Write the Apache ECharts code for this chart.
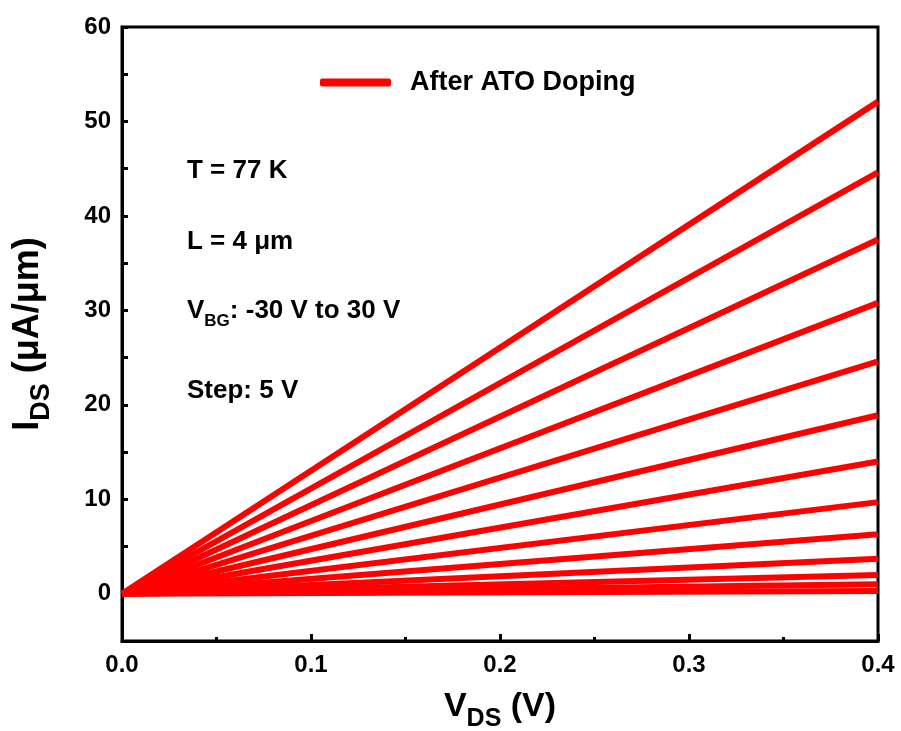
<!DOCTYPE html>
<html>
<head>
<meta charset="utf-8">
<script src="https://cdn.jsdelivr.net/npm/echarts@6/dist/echarts.min.js"></script>
<style>html,body{margin:0;padding:0;background:#fff;overflow:hidden;}#c{width:901px;height:731px;}</style>
</head>
<body>
<div id="c"></div>
<script>
// V_DS sweep endpoints (V)
var vds = [0, 0.4];
// I_DS at V_DS = 0.4 V for each back-gate voltage (µA/µm), V_BG = 30 V down to -30 V
var vbg = [30, 25, 20, 15, 10, 5, 0, -5, -10, -15, -20, -25, -30];
var idsEnd = [52.1, 44.6, 37.5, 30.8, 24.6, 18.9, 14.0, 9.7, 6.3, 3.7, 2.0, 1.0, 0.3];
var xTicks = ['0.0', '0.1', '0.2', '0.3', '0.4'];
var yTicks = [0, 10, 20, 30, 40, 50, 60];
var legendName = 'After ATO Doping';

var FONT = 'Arial, "Liberation Sans", Helvetica, sans-serif';

var series = vbg.map(function (v, i) {
  return {
    name: legendName,
    type: 'line',
    data: [[vds[0], 0], [vds[1], idsEnd[i]]],
    showSymbol: false,
    symbol: 'none',
    lineStyle: { color: '#ff0000', width: 6, cap: 'butt' },
    itemStyle: { color: '#ff0000' },
    z: 2
  };
});

var chart = echarts.init(document.getElementById('c'), null, { renderer: 'canvas', width: 901, height: 731 });
chart.setOption({
  animation: false,
  backgroundColor: '#fff',
  textStyle: { fontFamily: FONT },
  grid: { left: 122, top: 27, width: 756, height: 614, show: true, borderColor: '#000', borderWidth: 3, containLabel: false, outerBoundsMode: 'none' },
  legend: {
    data: [legendName],
    left: 315,
    top: 64,
    itemWidth: 71,
    itemHeight: 8,
    icon: 'roundRect',
    textStyle: { fontSize: 27, fontWeight: 'bold', color: '#000', fontFamily: FONT, padding: [0, 0, 0, 14] }
  },
  xAxis: {
    type: 'value',
    min: 0, max: 0.4, interval: 0.1,
    axisLine: { show: true, onZero: false, lineStyle: { color: '#000', width: 3 } },
    axisTick: { show: true, inside: true, length: 7, lineStyle: { color: '#000', width: 3 } },
    minorTick: { show: true, splitNumber: 2, length: 4, lineStyle: { color: '#000', width: 3 } },
    splitLine: { show: false },
    axisLabel: {
      margin: 12, fontSize: 24, fontWeight: 'bold', color: '#000', fontFamily: FONT,
      formatter: function (v) { var i = Math.round(v * 10); return xTicks[i] !== undefined ? xTicks[i] : ''; }
    },
    name: '{m|V}{s|DS}{m| (V)}',
    nameLocation: 'middle',
    nameGap: 43,
    nameTextStyle: {
      rich: {
        m: { fontSize: 34, fontWeight: 'bold', color: '#000', fontFamily: FONT, verticalAlign: 'bottom', lineHeight: 40 },
        s: { fontSize: 25, fontWeight: 'bold', color: '#000', fontFamily: FONT, verticalAlign: 'bottom', lineHeight: 30, padding: [0, 0, -8, 0] }
      }
    }
  },
  yAxis: {
    type: 'value',
    min: -5, max: 60, interval: 5,
    axisLine: { show: true, onZero: false, lineStyle: { color: '#000', width: 3 } },
    axisTick: { show: true, inside: true, length: 6, lineStyle: { color: '#000', width: 3 } },
    splitLine: { show: false },
    axisLabel: {
      margin: 11, fontSize: 24, fontWeight: 'bold', color: '#000', fontFamily: FONT,
      formatter: function (v) { return yTicks.indexOf(v) >= 0 ? String(v) : ''; }
    },
    name: '{m|I}{s|DS}{m| (μA/μm)}',
    nameLocation: 'middle',
    nameGap: 76,
    nameTextStyle: {
      rich: {
        m: { fontSize: 36, fontWeight: 'bold', color: '#000', fontFamily: FONT, verticalAlign: 'bottom', lineHeight: 42 },
        s: { fontSize: 27, fontWeight: 'bold', color: '#000', fontFamily: FONT, verticalAlign: 'bottom', lineHeight: 32, padding: [0, 0, -9, 0] }
      }
    }
  },
  graphic: [
    { type: 'text', left: 187, top: 158, style: { text: 'T = 77 K', font: 'bold 26px ' + FONT, fill: '#000' } },
    { type: 'text', left: 187, top: 229, style: { text: 'L = 4 μm', font: 'bold 26px ' + FONT, fill: '#000' } },
    { type: 'text', left: 187, top: 298, style: {
        text: '{m|V}{s|BG}{m|: -30 V to 30 V}',
        rich: {
          m: { font: 'bold 26px ' + FONT, fill: '#000', verticalAlign: 'bottom', lineHeight: 32 },
          s: { font: 'bold 17px ' + FONT, fill: '#000', verticalAlign: 'bottom', lineHeight: 22, padding: [0, 0, -6, 0] }
        }
      } },
    { type: 'text', left: 187, top: 378, style: { text: 'Step: 5 V', font: 'bold 26px ' + FONT, fill: '#000' } }
  ],
  series: series
});
</script>
</body>
</html>
